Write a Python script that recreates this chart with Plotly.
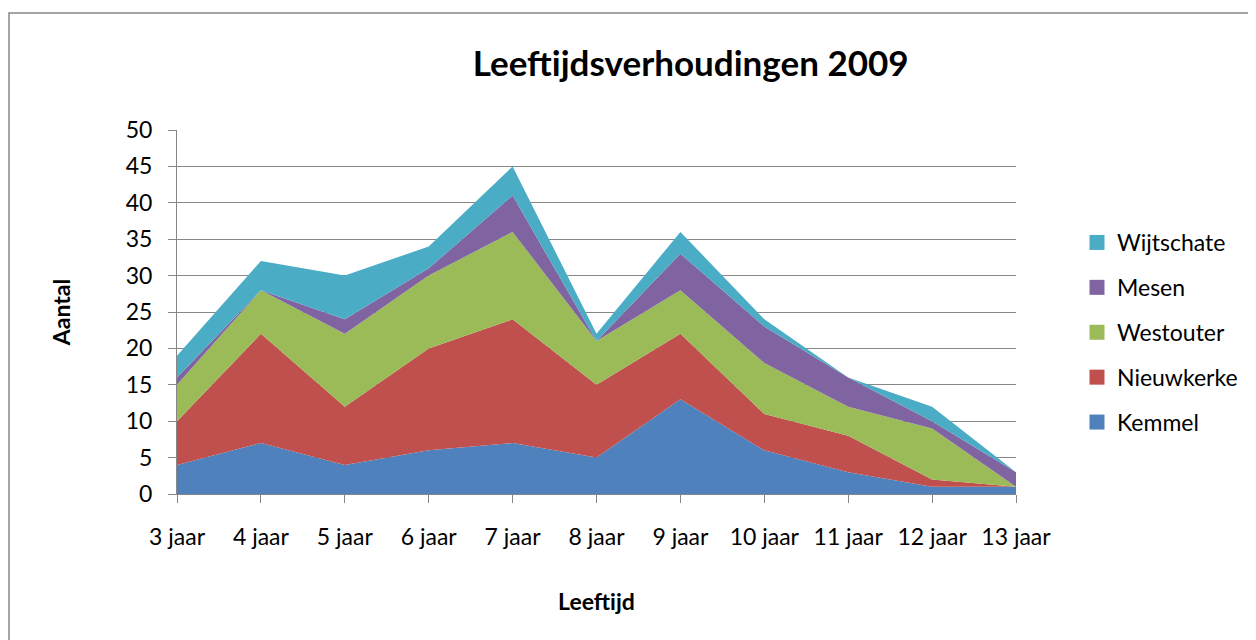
import plotly.graph_objects as go

categories = ["3 jaar", "4 jaar", "5 jaar", "6 jaar", "7 jaar", "8 jaar", "9 jaar",
              "10 jaar", "11 jaar", "12 jaar", "13 jaar"]
kemmel     = [4, 7, 4, 6, 7, 5, 13, 6, 3, 1, 1]
nieuwkerke = [6, 15, 8, 14, 17, 10, 9, 5, 5, 1, 0]
westouter  = [5, 6, 10, 10, 12, 6, 6, 7, 4, 7, 0]
mesen      = [1, 0, 2, 1, 5, 0, 5, 5, 4, 1, 2]
wijtschate = [3, 4, 6, 3, 4, 1, 3, 1, 0, 2, 0]

series = [
    ("Kemmel", kemmel, "#4F81BD"),
    ("Nieuwkerke", nieuwkerke, "#C0504D"),
    ("Westouter", westouter, "#9BBB59"),
    ("Mesen", mesen, "#8064A2"),
    ("Wijtschate", wijtschate, "#4BACC6"),
]

FONT = "Lato"
GRID = "#878787"
FS = 23

fig = go.Figure()
xs = list(range(len(categories)))
for name, vals, col in series:
    fig.add_trace(go.Scatter(
        x=xs, y=vals, name=name, mode="lines", stackgroup="one",
        line=dict(width=0, color=col), fillcolor=col, showlegend=False,
    ))
# legend entries with square swatches (top-to-bottom: last series first)
for name, vals, col in reversed(series):
    fig.add_trace(go.Scatter(
        x=[None], y=[None], name=name, mode="markers", legendgroup="leg_" + name,
        marker=dict(symbol="square", size=15, color=col), showlegend=True,
    ))

fig.update_layout(
    width=1248, height=632,
    margin=dict(l=169, r=240, t=122, b=146),
    paper_bgcolor="white", plot_bgcolor="white",
    font=dict(family=FONT, size=FS, color="#000000"),
    title=dict(text="<b>Leeftijdsverhoudingen 2009</b>", x=0.547, xanchor="center",
               xref="container", y=1 - 56 / 632, yanchor="middle",
               font=dict(family=FONT, size=35, color="#000000")),
    showlegend=True,
    legend=dict(x=1.0727, xanchor="left", y=0.75, yanchor="top",
                traceorder="grouped", tracegroupgap=12,
                font=dict(family=FONT, size=FS), itemwidth=30,
                bgcolor="rgba(0,0,0,0)"),
    xaxis=dict(range=[0, 10], tickmode="array", tickvals=xs, ticktext=categories,
               showgrid=False, showline=True, linecolor=GRID, linewidth=1,
               ticks="outside", ticklen=8, tickcolor=GRID, zeroline=False,
               ticklabelstandoff=14,
               title=dict(text="<b>Leeftijd</b>", font=dict(family=FONT, size=FS),
                          standoff=45)),
    yaxis=dict(range=[0, 50], dtick=5, showgrid=True, gridcolor=GRID, gridwidth=1,
               showline=True, linecolor=GRID, linewidth=1,
               ticks="outside", ticklen=8, tickcolor=GRID, zeroline=False,
               ticklabelstandoff=11,
               title=dict(text="<b>Aantal</b>", font=dict(family=FONT, size=FS),
                          standoff=48)),
    shapes=[dict(type="rect", xref="paper", yref="paper",
                 x0=(9 - 177) / 839, x1=(1270 - 177) / 839,
                 y0=(494 - 670) / 364, y1=(494 - 13) / 364,
                 line=dict(color=GRID, width=1.5), fillcolor="rgba(0,0,0,0)",
                 layer="below")],
)

fig.write_html("out.html")
